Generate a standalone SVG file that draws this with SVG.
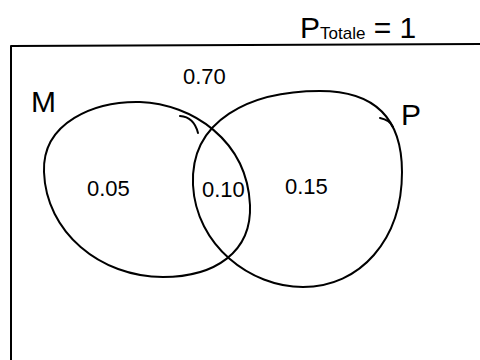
<svg xmlns="http://www.w3.org/2000/svg" width="480" height="360" viewBox="0 0 480 360">
<style>
.ln{fill:none;stroke:#000;stroke-width:2;stroke-linecap:round;stroke-linejoin:round}
.t{font-family:"Liberation Sans",Arial,sans-serif;font-size:30px;fill:#000}
.n{font-family:"Liberation Sans",Arial,sans-serif;font-size:22px;fill:#000}
</style>
<rect width="480" height="360" fill="#fff"/>
<g id="frame">
<path class="ln" d="M11,360 L11,46 L480,44"/>
</g>
<g id="title">
<text class="t" x="300" y="38" font-size="28">P<tspan font-size="17" dy="1">Totale</tspan><tspan dy="-1"> = 1</tspan></text>
</g>
<g id="outside">
<text class="n" x="183" y="84">0.70</text>
</g>
<g id="setM">
<path class="ln" d="M44,172 C42,122 95,101 140,102 C192,104 247,140 250,205 C252,252 215,277 163,277 C100,277 46,232 44,172 Z"/>
<path class="ln" d="M180,116 Q194,117 198,133"/>
<text class="t" x="31" y="112">M</text>
<text class="n" x="87" y="196">0.05</text>
</g>
<g id="setP">
<path class="ln" d="M193,185 C190,120 250,91 320,91 C375,91 402,118 402,172 C402,240 360,287 303,287 C250,287 196,245 193,185 Z"/>
<path class="ln" d="M380,118 Q390,120 393,127"/>
<text class="t" x="401" y="125">P</text>
<text class="n" x="285" y="194">0.15</text>
</g>
<g id="intersection">
<text class="n" x="202" y="197">0.10</text>
</g>
</svg>
